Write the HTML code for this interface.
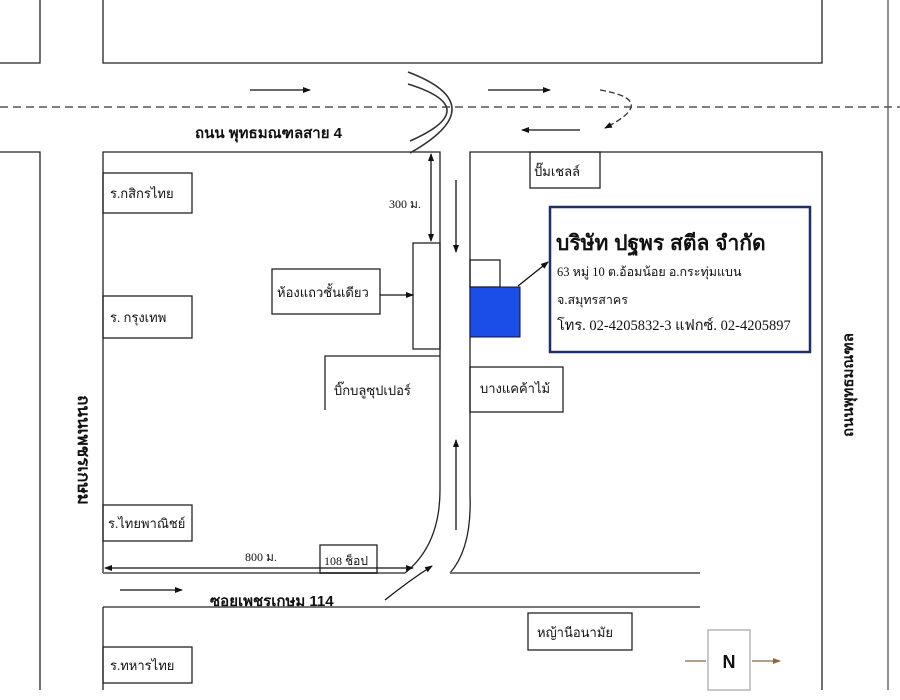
<!DOCTYPE html>
<html><head><meta charset="utf-8"><style>
html,body{margin:0;padding:0;background:#fff;}
svg{display:block;}
text{font-family:"Liberation Serif","Noto Serif CJK SC",serif;fill:#111;}
.b{font-family:"Liberation Sans","Noto Sans CJK SC",sans-serif;font-weight:bold;}
</style></head><body>
<svg width="900" height="700" viewBox="0 0 900 700" xmlns="http://www.w3.org/2000/svg">
<defs>
<marker id="a" markerWidth="8" markerHeight="8" refX="7" refY="4" orient="auto" markerUnits="userSpaceOnUse"><path d="M0,1 L8,4 L0,7 Z" fill="#111"/></marker>
<marker id="as" markerWidth="8" markerHeight="8" refX="1" refY="4" orient="auto" markerUnits="userSpaceOnUse"><path d="M8,1 L0,4 L8,7 Z" fill="#111"/></marker>
<marker id="ab" markerWidth="8" markerHeight="8" refX="7" refY="4" orient="auto" markerUnits="userSpaceOnUse"><path d="M0,1 L8,4 L0,7 Z" fill="#8a6a3a"/></marker>
</defs>
<g stroke="#222" stroke-width="1.3" fill="none">
<polyline points="40,0 40,63 0,63"/>
<polyline points="103,0 103,63 822,63 822,0"/>
<line x1="888" y1="0" x2="888" y2="690" stroke="#555"/>
<line x1="0" y1="107" x2="900" y2="107" stroke="#555" stroke-dasharray="8,5" stroke-width="1.5"/>
<polyline points="0,152 40,152 40,690"/>
<polyline points="103,573 103,152 440,152 440,490"/>
<polyline points="822,690 822,152 470,152 470,495"/>
<path d="M440,490 Q440,545 405,573"/>
<path d="M470,495 Q472,548 450,573"/>
<line x1="103" y1="573" x2="405" y2="573" stroke="#777" stroke-width="2"/>
<line x1="450" y1="573" x2="700" y2="573" stroke="#777" stroke-width="2"/>
<line x1="103" y1="607" x2="700" y2="607" stroke="#777" stroke-width="2"/>
<line x1="103" y1="607" x2="103" y2="690"/>
<rect x="103" y="173" width="89" height="40"/>
<rect x="103" y="296" width="89" height="42"/>
<rect x="103" y="505" width="89" height="36"/>
<rect x="103" y="647" width="89" height="36"/>
<rect x="272" y="269" width="108" height="45"/>
<rect x="413" y="243" width="27" height="106"/>
<rect x="530" y="152" width="70" height="36"/>
<rect x="470" y="367" width="93" height="45"/>
<rect x="470" y="260" width="30" height="27"/>
<rect x="320" y="545" width="57" height="28"/>
<rect x="528" y="613" width="104" height="37"/>
<polyline points="325,410 325,356 440,356"/>
<rect x="708" y="630" width="42" height="60" stroke="#aaa"/>
</g>
<rect x="470" y="287" width="50" height="50" fill="#1a4ee6" stroke="#113" stroke-width="1"/>
<rect x="550" y="207" width="260" height="145" fill="#fff" stroke="#1c2f66" stroke-width="2.5"/>
<g stroke="#111" stroke-width="1.3" fill="none">
<line x1="250" y1="90" x2="310" y2="90" marker-end="url(#a)"/>
<line x1="488" y1="90" x2="550" y2="90" marker-end="url(#a)"/>
<line x1="580" y1="130" x2="522" y2="130" marker-end="url(#a)"/>
<line x1="120" y1="590" x2="182" y2="590" marker-end="url(#a)"/>
<line x1="380" y1="295" x2="413" y2="295" marker-end="url(#a)"/>
<line x1="431" y1="154" x2="431" y2="241" marker-start="url(#as)" marker-end="url(#a)"/>
<line x1="105" y1="568" x2="413" y2="568" marker-start="url(#as)" marker-end="url(#a)"/>
<line x1="456" y1="180" x2="456" y2="252" marker-end="url(#a)"/>
<line x1="456" y1="530" x2="456" y2="440" marker-end="url(#a)"/>
<line x1="518" y1="286" x2="548" y2="262" marker-end="url(#a)"/>
<path d="M385,600 Q410,580 432,566" marker-end="url(#a)"/>
<path d="M408,72 Q495,105 410,153" stroke="#333" stroke-width="1.6"/>
<path d="M408,84 Q485,108 410,141" stroke="#333" stroke-width="1.6"/>
<path d="M408,98 Q470,110 410,130" stroke="#333" stroke-width="1.4" opacity="0"/>
<path d="M600,90 Q660,100 605,128" stroke="#333" stroke-dasharray="6,3" marker-end="url(#a)"/>
</g>
<line x1="685" y1="661" x2="706" y2="661" stroke="#8a6a3a" stroke-width="1.3"/>
<line x1="752" y1="661" x2="780" y2="661" stroke="#8a6a3a" stroke-width="1.3" marker-end="url(#ab)"/>
<text x="195" y="138" class="b" font-size="15">ถนน พุทธมณฑลสาย 4</text>
<text x="110" y="198" font-size="13">ร.กสิกรไทย</text>
<text x="110" y="322" font-size="13">ร. กรุงเทพ</text>
<text x="108" y="528" font-size="13">ร.ไทยพาณิชย์</text>
<text x="110" y="670" font-size="13">ร.ทหารไทย</text>
<text x="277" y="297" font-size="13">ห้องแถวชั้นเดียว</text>
<text x="389" y="208" font-size="12">300 ม.</text>
<text x="534" y="176" font-size="13">ปั๊มเชลล์</text>
<text x="334" y="395" font-size="13">บิ๊กบลูซุปเปอร์</text>
<text x="480" y="393" font-size="13">บางแคค้าไม้</text>
<text x="245" y="561" font-size="12">800 ม.</text>
<text x="324" y="565" font-size="12">108 ช็อป</text>
<text x="210" y="606" class="b" font-size="15">ซอยเพชรเกษม 114</text>
<text x="537" y="637" font-size="13">หญ้านีอนามัย</text>
<text x="729" y="668" class="b" font-size="18" text-anchor="middle">N</text>
<text x="556" y="250" class="b" font-size="21">บริษัท ปฐพร สตีล จำกัด</text>
<text x="557" y="276" font-size="12.5">63 หมู่ 10 ต.อ้อมน้อย อ.กระทุ่มแบน</text>
<text x="557" y="304" font-size="12.5">จ.สมุทรสาคร</text>
<text x="557" y="330" font-size="14.5">โทร. 02-4205832-3 แฟกซ์. 02-4205897</text>
<text transform="translate(76,450) rotate(90)" class="b" font-size="17" text-anchor="middle" dy="-2">ถนนเพชรเกษม</text>
<text transform="translate(853,385) rotate(-90)" class="b" font-size="15" text-anchor="middle">ถนนพุทธมณฑล</text>
</svg>
</body></html>
